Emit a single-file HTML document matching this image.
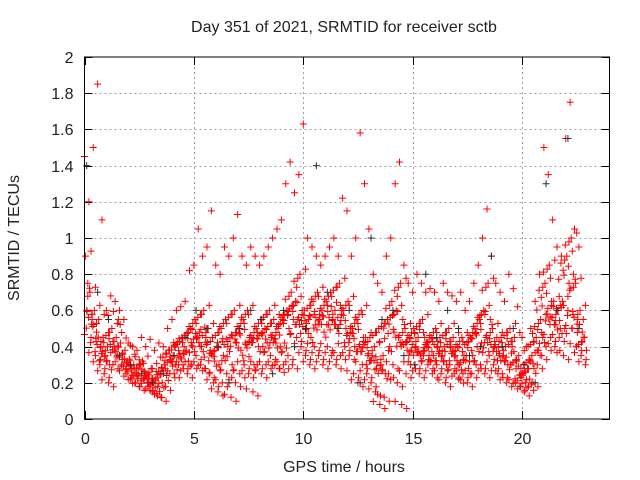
<!DOCTYPE html>
<html><head><meta charset="utf-8"><style>
body{margin:0;background:#fff}
svg{display:block;font-family:"Liberation Sans",sans-serif}
</style></head><body>
<svg id="chart" width="640" height="480">
<rect width="640" height="480" fill="#fff"/>
<text x="344" y="32" font-size="16" text-anchor="middle" fill="#222">Day 351 of 2021, SRMTID for receiver sctb</text>
<text x="344" y="472" font-size="16" text-anchor="middle" fill="#222">GPS time / hours</text>
<text transform="translate(19,238) rotate(-90)" font-size="16" text-anchor="middle" fill="#222">SRMTID / TECUs</text>
<g id="grid"></g><g id="ticks"></g><g id="marks"></g>
<rect x="84.5" y="57" width="525" height="362" fill="none" stroke="#000" stroke-width="1"/>
</svg>
<script>
const xTicks=[0,5,10,15,20];
const yTicks=[0,0.2,0.4,0.6,0.8,1,1.2,1.4,1.6,1.8,2];
const yTickLabels=["0","0.2","0.4","0.6","0.8","1","1.2","1.4","1.6","1.8","2"];
const step=0.2;
const redUpper=[1.45,1.2,1.5,1.85,1.1,0.6,0.68,0.65,0.6,0.55,0.42,0.4,0.38,0.45,0.4,0.44,0.38,0.42,0.4,0.5,0.55,0.6,0.62,0.65,0.82,0.85,1.05,0.9,0.95,1.15,0.85,0.8,0.95,0.9,1.0,1.13,0.9,0.85,0.95,0.9,0.85,0.9,0.95,1.0,1.05,1.1,1.3,1.42,1.25,1.35,1.63,1.0,0.95,0.9,0.85,0.9,0.95,1.0,0.9,1.22,1.15,0.9,1.0,1.58,1.3,1.05,0.8,0.75,0.7,0.9,1.0,1.3,1.42,0.85,0.75,0.7,0.8,0.75,0.7,0.72,0.7,0.65,0.75,0.7,0.68,0.65,0.7,0.6,0.65,0.75,0.85,1.0,1.16,0.9,0.75,0.7,0.65,0.8,0.72,0.62,0.45,0.4,0.5,0.65,0.8,1.5,1.35,1.1,0.95,0.9,1.55,1.75,1.05,0.95,0.55];
const redMid=[0.9,0.7,0.6,0.55,0.45,0.4,0.5,0.45,0.42,0.38,0.33,0.3,0.28,0.32,0.25,0.28,0.22,0.25,0.3,0.38,0.35,0.42,0.45,0.38,0.5,0.55,0.48,0.6,0.5,0.45,0.4,0.5,0.55,0.45,0.6,0.5,0.55,0.6,0.45,0.5,0.55,0.5,0.6,0.55,0.5,0.55,0.6,0.7,0.65,0.8,0.6,0.55,0.65,0.7,0.6,0.65,0.7,0.6,0.75,0.6,0.65,0.5,0.55,0.6,0.45,0.45,0.4,0.5,0.35,0.55,0.65,0.6,0.75,0.5,0.45,0.5,0.45,0.55,0.4,0.45,0.5,0.45,0.4,0.5,0.45,0.4,0.45,0.35,0.45,0.5,0.55,0.6,0.75,0.5,0.45,0.45,0.4,0.5,0.45,0.35,0.25,0.28,0.35,0.45,0.55,0.75,0.85,0.65,0.6,0.65,0.9,1.0,0.75,0.6,0.45];
const redLow=[0.6,0.45,0.35,0.3,0.25,0.2,0.3,0.35,0.3,0.25,0.22,0.2,0.18,0.22,0.18,0.15,0.14,0.12,0.18,0.25,0.25,0.3,0.3,0.25,0.3,0.35,0.3,0.28,0.25,0.2,0.15,0.2,0.25,0.12,0.2,0.25,0.3,0.25,0.15,0.3,0.25,0.3,0.35,0.3,0.28,0.3,0.35,0.3,0.45,0.4,0.35,0.3,0.4,0.35,0.3,0.4,0.35,0.3,0.35,0.4,0.35,0.25,0.2,0.3,0.25,0.2,0.15,0.08,0.12,0.25,0.3,0.2,0.08,0.25,0.3,0.3,0.25,0.35,0.3,0.25,0.3,0.25,0.2,0.3,0.25,0.22,0.25,0.2,0.25,0.3,0.3,0.25,0.35,0.3,0.25,0.25,0.2,0.3,0.2,0.18,0.15,0.18,0.2,0.3,0.35,0.4,0.45,0.4,0.45,0.35,0.6,0.5,0.4,0.35,0.3];
const redQuart=[0.75,0.55,0.48,0.4,0.35,0.3,0.4,0.55,0.36,0.32,0.27,0.25,0.3,0.26,0.22,0.2,0.18,0.2,0.24,0.32,0.3,0.36,0.4,0.32,0.4,0.45,0.4,0.45,0.38,0.32,0.3,0.35,0.4,0.3,0.42,0.38,0.42,0.45,0.3,0.4,0.4,0.42,0.45,0.42,0.4,0.42,0.5,0.55,0.55,0.6,0.5,0.45,0.52,0.55,0.48,0.52,0.55,0.5,0.6,0.5,0.5,0.4,0.4,0.45,0.35,0.35,0.28,0.3,0.25,0.4,0.48,0.45,0.55,0.38,0.38,0.4,0.35,0.45,0.35,0.35,0.4,0.35,0.3,0.4,0.35,0.3,0.35,0.28,0.35,0.4,0.42,0.45,0.55,0.4,0.35,0.35,0.3,0.4,0.32,0.28,0.2,0.22,0.28,0.38,0.45,0.58,0.65,0.52,0.5,0.5,0.75,0.8,0.55,0.48,0.38];
const grayStep=0.5;
const grayValues=[1.4,0.7,0.55,0.35,0.3,0.25,0.2,0.25,0.35,0.45,0.6,0.5,0.4,0.2,0.5,0.6,0.55,0.25,0.6,0.4,0.5,1.4,0.7,0.5,0.6,0.2,1.0,0.55,0.6,0.35,0.3,0.8,0.45,0.6,0.5,0.35,0.4,0.9,0.4,0.5,0.3,0.2,1.3,0.6,1.55,0.5];

const X0=84.5,X1=609.5,Y0=419,Y1=57,XMAX=24,YMAX=2;
const xs=v=>X0+v/XMAX*(X1-X0);
const ys=v=>Y0-v/YMAX*(Y0-Y1);
const NS="http://www.w3.org/2000/svg";
function mk(tag,attrs,parent){const e=document.createElementNS(NS,tag);for(const k in attrs)e.setAttribute(k,attrs[k]);parent.appendChild(e);return e;}
const grid=document.getElementById('grid'),ticks=document.getElementById('ticks'),marks=document.getElementById('marks');
yTicks.forEach((v,i)=>{
  const y=Math.round(ys(v))+0.5;
  if(i>0&&i<yTicks.length-1){
    const g=mk('line',{x1:X0,x2:X1,y1:y,y2:y,stroke:'#a0a0a0','stroke-dasharray':'2,3'},grid);
    
    
  }
  mk('line',{x1:X0,x2:X0+8,y1:y,y2:y,stroke:'#000'},ticks);
  mk('line',{x1:X1-8,x2:X1,y1:y,y2:y,stroke:'#000'},ticks);
  const t=mk('text',{x:X0-11,y:y+5.5,'font-size':16,'text-anchor':'end',fill:'#222'},ticks);
  t.textContent=yTickLabels[i];
  
  
});
xTicks.forEach((v,i)=>{
  const x=Math.round(xs(v))+0.5;
  if(i>0){
    const g=mk('line',{x1:x,x2:x,y1:Y0,y2:Y1,stroke:'#a0a0a0','stroke-dasharray':'2,3'},grid);
    
    
  }
  mk('line',{x1:x,x2:x,y1:Y0,y2:Y0-8,stroke:'#000'},ticks);
  mk('line',{x1:x,x2:x,y1:Y1,y2:Y1+8,stroke:'#000'},ticks);
  const t=mk('text',{x:x,y:Y0+25,'font-size':16,'text-anchor':'middle',fill:'#222'},ticks);
  t.textContent=String(v);
  
  
});
function plus(t,v,dy,color,name){
  const x=xs(t),y=ys(v)+dy;
  const p=mk('path',{d:`M${x-3.5},${y}H${x+3.5}M${x},${y-3.5}V${y+3.5}`,stroke:color,'stroke-width':1,fill:'none'},marks);
  
  
}
// each pass: [array, time offset (h), index shift, pixel nudge]
const passes=[[redUpper,0,0,0],[redMid,0.05,0,0],[redMid,0.15,1,4],[redMid,0.1,-1,-5],[redLow,0.1,0,0],[redLow,0.0,1,-3],[redQuart,0.15,0,0],[redQuart,0.03,-1,5],[redQuart,0.08,2,-4],[redMid,0.18,2,7],[redLow,0.13,-1,4],[redQuart,0.12,1,-8]];
passes.forEach(([arr,off,sh,dy])=>{
  arr.forEach((v,i)=>{
    const j=i+sh;
    if(j<0||j>=arr.length)return;
    plus(i*step+off,arr[j],dy,'#ff0000','red-point');
  });
});
grayValues.forEach((v,i)=>plus(i*grayStep+0.1,v,0,'#303030','gray-point'));
</script>
</body></html>
